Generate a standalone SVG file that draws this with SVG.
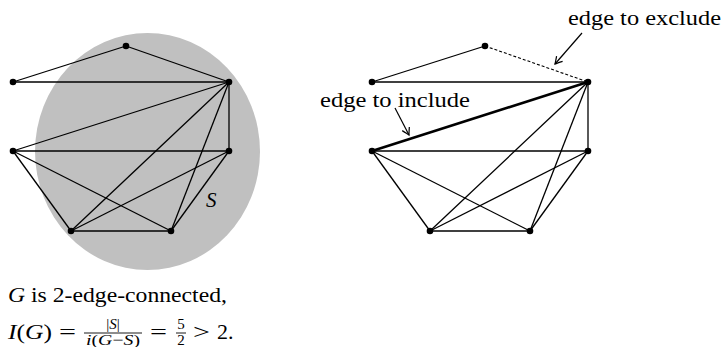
<svg xmlns="http://www.w3.org/2000/svg" width="723" height="347" viewBox="0 0 723 347">
<style>
.e{stroke:#000;stroke-width:1.3;fill:none}
.thick{stroke:#000;stroke-width:2.6;fill:none}
.dash{stroke:#000;stroke-width:1.1;stroke-dasharray:3 2;fill:none}
.n{fill:#000}
text{font-family:'Liberation Serif','Times New Roman','DejaVu Serif',serif;fill:#000}
.i{font-style:italic}
.arr{stroke:#000;stroke-width:1.2;fill:none}
.bar{stroke:#000;stroke-width:0.9}
</style>
<defs>
<marker id="ah" viewBox="-8 -5 10 10" refX="0" refY="0" markerWidth="10" markerHeight="10" markerUnits="userSpaceOnUse" orient="auto">
<path d="M -7,-4 Q -2,-1 0,0 Q -2,1 -7,4" stroke="#000" stroke-width="1.2" fill="none"/>
</marker>
</defs>
<rect width="723" height="347" fill="#fff"/>
<ellipse id="S-region" cx="147.5" cy="151.5" rx="112.5" ry="118.5" fill="#c0c0c0"/>
<text class="i" x="206" y="207" font-size="21">S</text>

<g id="connectors">
<g id="left-edges">
<line class="e" x1="126" y1="46" x2="13" y2="82"/>
<line class="e" x1="126" y1="46" x2="229" y2="82"/>
<line class="e" x1="13" y1="82" x2="229" y2="82"/>
<line class="e" x1="229" y1="82" x2="13" y2="151"/>
<line class="e" x1="229" y1="82" x2="229" y2="151"/>
<line class="e" x1="229" y1="82" x2="71" y2="231"/>
<line class="e" x1="229" y1="82" x2="171" y2="231"/>
<line class="e" x1="13" y1="151" x2="229" y2="151"/>
<line class="e" x1="13" y1="151" x2="71" y2="231"/>
<line class="e" x1="13" y1="151" x2="171" y2="231"/>
<line class="e" x1="229" y1="151" x2="71" y2="231"/>
<line class="e" x1="229" y1="151" x2="171" y2="231"/>
<line class="e" x1="71" y1="231" x2="171" y2="231"/>
</g>
<g id="right-edges">
<line class="e" x1="485" y1="46" x2="372" y2="82"/>
<line class="dash" x1="485" y1="46" x2="588" y2="82"/>
<line class="e" x1="372" y1="82" x2="588" y2="82"/>
<line class="thick" x1="588" y1="82" x2="372" y2="151"/>
<line class="e" x1="588" y1="82" x2="588" y2="151"/>
<line class="e" x1="588" y1="82" x2="430" y2="231"/>
<line class="e" x1="588" y1="82" x2="530" y2="231"/>
<line class="e" x1="372" y1="151" x2="588" y2="151"/>
<line class="e" x1="372" y1="151" x2="430" y2="231"/>
<line class="e" x1="372" y1="151" x2="530" y2="231"/>
<line class="e" x1="588" y1="151" x2="430" y2="231"/>
<line class="e" x1="588" y1="151" x2="530" y2="231"/>
<line class="e" x1="430" y1="231" x2="530" y2="231"/>
</g>
<line id="arrow-exclude" class="arr" x1="582" y1="33" x2="555" y2="64" marker-end="url(#ah)"/>
<line id="arrow-include" class="arr" x1="395" y1="108" x2="409" y2="135" marker-end="url(#ah)"/>
</g>

<g id="left-nodes">
<g id="L1"><circle class="n" cx="126" cy="46" r="3.3"/></g>
<g id="L2"><circle class="n" cx="13" cy="82" r="3.3"/></g>
<g id="L3"><circle class="n" cx="229" cy="82" r="3.3"/></g>
<g id="L4"><circle class="n" cx="13" cy="151" r="3.3"/></g>
<g id="L5"><circle class="n" cx="229" cy="151" r="3.3"/></g>
<g id="L6"><circle class="n" cx="71" cy="231" r="3.3"/></g>
<g id="L7"><circle class="n" cx="171" cy="231" r="3.3"/></g>
</g>
<g id="right-nodes">
<g id="R1"><circle class="n" cx="485" cy="46" r="3.3"/></g>
<g id="R2"><circle class="n" cx="372" cy="82" r="3.3"/></g>
<g id="R3"><circle class="n" cx="588" cy="82" r="3.3"/></g>
<g id="R4"><circle class="n" cx="372" cy="151" r="3.3"/></g>
<g id="R5"><circle class="n" cx="588" cy="151" r="3.3"/></g>
<g id="R6"><circle class="n" cx="430" cy="231" r="3.3"/></g>
<g id="R7"><circle class="n" cx="530" cy="231" r="3.3"/></g>
</g>

<g id="labels">
<text x="568" y="25" font-size="21" textLength="153" lengthAdjust="spacingAndGlyphs">edge to exclude</text>
<text x="320" y="107" font-size="21" textLength="150" lengthAdjust="spacingAndGlyphs">edge to include</text>
<text x="8" y="302" font-size="22" textLength="219" lengthAdjust="spacingAndGlyphs"><tspan class="i">G</tspan> is 2-edge-connected,</text>
<text x="8" y="339" font-size="22" textLength="44" lengthAdjust="spacingAndGlyphs"><tspan class="i">I</tspan>(<tspan class="i">G</tspan>)</text>
<text x="59" y="339" font-size="22" textLength="17" lengthAdjust="spacingAndGlyphs">=</text>
<text x="113" y="329" font-size="15" text-anchor="middle">|<tspan class="i">S</tspan>|</text>
<line class="bar" x1="84" y1="333" x2="142" y2="333"/>
<text x="113" y="345" font-size="15" text-anchor="middle" textLength="54" lengthAdjust="spacingAndGlyphs"><tspan class="i">i</tspan>(<tspan class="i">G</tspan>−<tspan class="i">S</tspan>)</text>
<text x="150" y="339" font-size="22" textLength="17" lengthAdjust="spacingAndGlyphs">=</text>
<text x="181" y="329" font-size="15" text-anchor="middle">5</text>
<line class="bar" x1="176" y1="333" x2="186" y2="333"/>
<text x="181" y="345" font-size="15" text-anchor="middle">2</text>
<text x="193" y="339" font-size="22" textLength="17" lengthAdjust="spacingAndGlyphs">&gt;</text>
<text x="217" y="339" font-size="22">2.</text>
</g>
</svg>
